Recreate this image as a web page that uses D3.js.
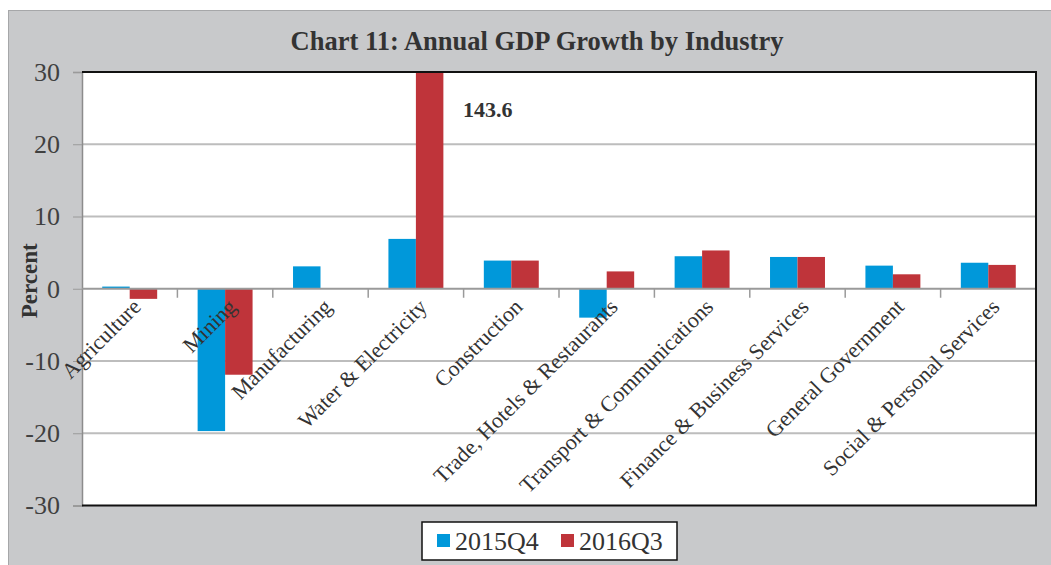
<!DOCTYPE html>
<html lang="en">
<head>
<meta charset="utf-8">
<title>Chart 11: Annual GDP Growth by Industry</title>
<script src="https://cdn.jsdelivr.net/npm/d3@7"></script>
<style>
  body { margin: 0; background: #fff; }
  text { font-family: "Liberation Serif", "Times New Roman", serif; }
</style>
</head>
<body>
<script>
// data
var industries = ["Agriculture", "Mining", "Manufacturing", "Water & Electricity", "Construction",
  "Trade, Hotels & Restaurants", "Transport & Communications", "Finance & Business Services",
  "General Government", "Social & Personal Services"];
var q2015Q4 = [0.3, -19.7, 3.1, 6.9, 3.9, -4.0, 4.5, 4.4, 3.2, 3.6];
var q2016Q3 = [-1.4, -11.9, 0, 143.6, 3.9, 2.4, 5.3, 4.4, 2.0, 3.3];
var seriesNames = ["2015Q4", "2016Q3"];
var seriesColors = ["#0098da", "#bf343a"];
var yTicks = [-30, -20, -10, 0, 10, 20, 30];

var W = 1051, H = 565;
var plotL = 82, plotR = 1036, plotT = 72, plotB = 505.5;

var svg = d3.select("body").append("svg")
  .attr("width", W).attr("height", H);

// gray panel behind everything
svg.append("rect")
  .attr("x", 8.5).attr("y", 10.5)
  .attr("width", W).attr("height", H)
  .attr("fill", "#c8c9cb")
  .attr("stroke", "#a6a7a9");

svg.append("text")
  .attr("x", 537).attr("y", 50)
  .attr("text-anchor", "middle")
  .attr("font-size", 26.5).attr("font-weight", "bold")
  .attr("fill", "#333")
  .text("Chart 11: Annual GDP Growth by Industry");

// plot area
svg.append("rect")
  .attr("x", plotL).attr("y", plotT)
  .attr("width", plotR - plotL).attr("height", plotB - plotT)
  .attr("fill", "#fff");

var x = d3.scaleBand().domain(industries).range([plotL, plotR]);
var y = d3.scaleLinear().domain([-30, 30]).range([plotB, plotT]).clamp(true);

// gridlines
svg.append("g").selectAll("line")
  .data(yTicks.filter(function(t) { return t != 0 && Math.abs(t) != 30; }))
  .enter().append("line")
  .attr("x1", plotL).attr("x2", plotR)
  .attr("y1", function(d) { return y(d); }).attr("y2", function(d) { return y(d); })
  .attr("stroke", "#bdbdbd").attr("stroke-width", 2);

// y axis (plain hyphen for negatives, like the source)
var yAxis = svg.append("g")
  .attr("transform", "translate(" + plotL + ",0)")
  .call(d3.axisLeft(y).tickValues(yTicks).tickSize(9).tickPadding(13)
    .tickFormat(function(d) { return String(d); }));
yAxis.select(".domain").attr("stroke", "#8c8c8c").attr("stroke-width", 1.5);
yAxis.selectAll(".tick line").attr("stroke", "#9a9a9a");
yAxis.selectAll(".tick text")
  .attr("font-size", 26).attr("fill", "#404040")
  .attr("font-family", "Liberation Serif, serif");

svg.append("text")
  .attr("transform", "translate(29," + (y(0) - 8) + ") rotate(-90)")
  .attr("text-anchor", "middle")
  .attr("dy", "0.35em")
  .attr("font-size", 23).attr("font-weight", "bold")
  .attr("fill", "#333")
  .text("Percent");

// bars
var barW = x.bandwidth() * 0.288;
var series = [q2015Q4, q2016Q3];
series.forEach(function(vals, s) {
  svg.append("g").selectAll("rect")
    .data(vals)
    .enter().append("rect")
    .attr("x", function(d, i) { return x(industries[i]) + x.bandwidth() / 2 - barW + s * barW; })
    .attr("y", function(d) { return Math.min(y(d), y(0)); })
    .attr("width", barW)
    .attr("height", function(d) { return Math.abs(y(d) - y(0)); })
    .attr("fill", seriesColors[s]);
});

// zero axis with category separators
svg.append("line")
  .attr("x1", plotL).attr("x2", plotR)
  .attr("y1", y(0)).attr("y2", y(0))
  .attr("stroke", "#9a9a9a").attr("stroke-width", 2);
svg.append("g").selectAll("line")
  .data(industries.slice(1))
  .enter().append("line")
  .attr("x1", function(d) { return x(d); }).attr("x2", function(d) { return x(d); })
  .attr("y1", y(0)).attr("y2", y(0) + 9)
  .attr("stroke", "#9a9a9a").attr("stroke-width", 1.5);

// plot border
svg.append("path")
  .attr("d", "M" + plotL + "," + plotT + "H" + plotR + "V" + plotB + "H" + plotL)
  .attr("fill", "none").attr("stroke", "#111").attr("stroke-width", 2);

// category labels
svg.append("g").selectAll("text")
  .data(industries)
  .enter().append("text")
  .attr("transform", function(d) {
    return "translate(" + (x(d) + x.bandwidth() / 2 + 7) + "," + (y(0) + 14) + ") rotate(-45)";
  })
  .attr("text-anchor", "end")
  .attr("dy", "0.35em")
  .attr("font-size", 22).attr("fill", "#333")
  .text(function(d) { return d; });

// value note for the clipped bar
svg.append("text")
  .attr("x", 463).attr("y", 117)
  .attr("font-size", 22).attr("font-weight", "bold").attr("fill", "#333")
  .text(q2016Q3[3].toFixed(1));

// legend
var lg = svg.append("g");
lg.append("rect")
  .attr("x", 422).attr("y", 522).attr("width", 255).attr("height", 38)
  .attr("fill", "#fff").attr("stroke", "#111").attr("stroke-width", 1.5);
var lgX = [437, 561];
seriesNames.forEach(function(n, i) {
  lg.append("rect")
    .attr("x", lgX[i]).attr("y", 534).attr("width", 13).attr("height", 13)
    .attr("fill", seriesColors[i]);
  lg.append("text")
    .attr("x", lgX[i] + 18).attr("y", 550)
    .attr("font-size", 26).attr("fill", "#333")
    .text(n);
});
</script>
</body>
</html>
